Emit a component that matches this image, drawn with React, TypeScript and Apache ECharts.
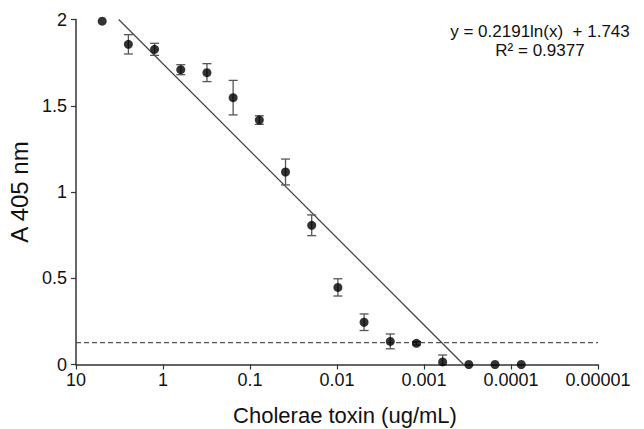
import React, { useEffect, useRef } from "react";
import * as echarts from "echarts";

// Cholera toxin serial dilution (ug/mL)
const concentrations = [
  5, 2.5, 1.25, 0.625, 0.3125, 0.15625, 0.078125, 0.0390625, 0.01953125,
  0.009765625, 0.0048828125, 0.00244140625, 0.001220703125, 0.0006103515625,
  0.00030517578125, 0.000152587890625, 0.0000762939453125,
];
// Mean absorbance at 405 nm
const absorbance = [
  1.99, 1.856, 1.827, 1.709, 1.692, 1.547, 1.417, 1.116, 0.807, 0.447, 0.245,
  0.134, 0.123, 0.015, 0, 0, 0,
];
// Error (± half-length of bar)
const errors = [
  0, 0.056, 0.035, 0.029, 0.052, 0.1, 0.025, 0.075, 0.06, 0.05, 0.048, 0.043,
  0.01, 0.04, 0, 0, 0,
];
const xTickLabels = ["10", "1", "0.1", "0.01", "0.001", "0.0001", "0.00001"];
const yTickLabels = ["0", "0.5", "1", "1.5", "2"];
// Logarithmic fit y = a ln(x) + b
const fitA = 0.2191;
const fitB = 1.743;
const fitR2 = 0.9377;
const cutoff = 0.127;

const FONT = "Liberation Sans, Arial, Helvetica, sans-serif";

export default function App() {
  const ref = useRef<HTMLDivElement>(null);
  useEffect(() => {
    document.body.style.margin = "0";
    const chart = echarts.init(ref.current!, null, { renderer: "svg" });
    const points = concentrations.map((c, i) => [c, absorbance[i]]);
    const errData = concentrations.map((c, i) => [c, absorbance[i], errors[i]]);
    const xTop = Math.exp((2 - fitB) / fitA);
    const xBottom = Math.exp((0 - fitB) / fitA);
    const axisColor = "#333";
    chart.setOption({
      animation: false,
      grid: {
        left: 76,
        right: 46,
        top: 19.5,
        bottom: 64.5,
        containLabel: false,
        outerBoundsMode: "none",
      },
      xAxis: {
        type: "log",
        logBase: 10,
        min: 0.00001,
        max: 10,
        inverse: true,
        name: "Cholerae toxin (ug/mL)",
        nameLocation: "middle",
        nameGap: 40,
        nameTextStyle: {
          fontFamily: FONT,
          fontSize: 22,
          color: "#111",
          padding: [0, 0, 0, 16],
        },
        axisLine: { lineStyle: { color: axisColor, width: 1.5 } },
        axisTick: { show: true, inside: false, length: 5, lineStyle: { color: axisColor, width: 1.2 } },
        minorTick: { show: false },
        splitLine: { show: false },
        axisLabel: {
          margin: 6,
          fontFamily: FONT,
          fontSize: 18,
          color: "#111",
          formatter: (v: number) => {
            const idx = 1 - Math.round(Math.log10(v));
            return xTickLabels[idx] ?? "";
          },
        },
      },
      yAxis: {
        type: "value",
        min: 0,
        max: 2,
        interval: 0.5,
        name: "A 405 nm",
        nameLocation: "middle",
        nameGap: 40,
        nameTextStyle: { fontFamily: FONT, fontSize: 24, color: "#111" },
        axisLine: { show: true, lineStyle: { color: axisColor, width: 1.5 } },
        axisTick: { show: true, inside: false, length: 5, lineStyle: { color: axisColor, width: 1.2 } },
        splitLine: { show: false },
        axisLabel: {
          margin: 9,
          fontFamily: FONT,
          fontSize: 18,
          color: "#111",
          formatter: (v: number) => {
            const idx = Math.round(v / 0.5);
            return yTickLabels[idx] ?? "";
          },
        },
      },
      graphic: [
        {
          type: "text",
          x: 540,
          y: 41,
          style: {
            text: `y = ${fitA}ln(x)  + ${fitB}\nR² = ${fitR2}`,
            fontFamily: FONT,
            fontSize: 17,
            lineHeight: 19,
            fill: "#111",
            align: "center",
            verticalAlign: "middle",
          },
        },
      ],
      series: [
        {
          type: "line",
          data: [
            [10, cutoff],
            [0.00001, cutoff],
          ],
          symbol: "none",
          lineStyle: { color: "#555", width: 1.3, type: [5, 3] },
          silent: true,
          z: 1,
        },
        {
          type: "line",
          data: [
            [xTop, 2],
            [xBottom, 0],
          ],
          symbol: "none",
          lineStyle: { color: "#444", width: 1.3 },
          silent: true,
          z: 2,
        },
        {
          type: "custom",
          data: errData,
          z: 3,
          renderItem: (params: any, api: any) => {
            const x = api.value(0);
            const y = api.value(1);
            const e = api.value(2);
            if (!e) return null;
            const lo = api.coord([x, Math.max(0, y - e)]);
            const hi = api.coord([x, y + e]);
            const half = 4.5;
            const style = { stroke: "#555", lineWidth: 1.3 };
            return {
              type: "group",
              children: [
                { type: "line", shape: { x1: hi[0], y1: hi[1], x2: lo[0], y2: lo[1] }, style },
                { type: "line", shape: { x1: hi[0] - half, y1: hi[1], x2: hi[0] + half, y2: hi[1] }, style },
                { type: "line", shape: { x1: lo[0] - half, y1: lo[1], x2: lo[0] + half, y2: lo[1] }, style },
              ],
            };
          },
        },
        {
          type: "scatter",
          data: points,
          symbol: "circle",
          symbolSize: 9,
          itemStyle: { color: "#000" },
          z: 4,
        },
      ],
    });
    return () => chart.dispose();
  }, []);
  return <div ref={ref} style={{ width: 644, height: 429 }} />;
}
